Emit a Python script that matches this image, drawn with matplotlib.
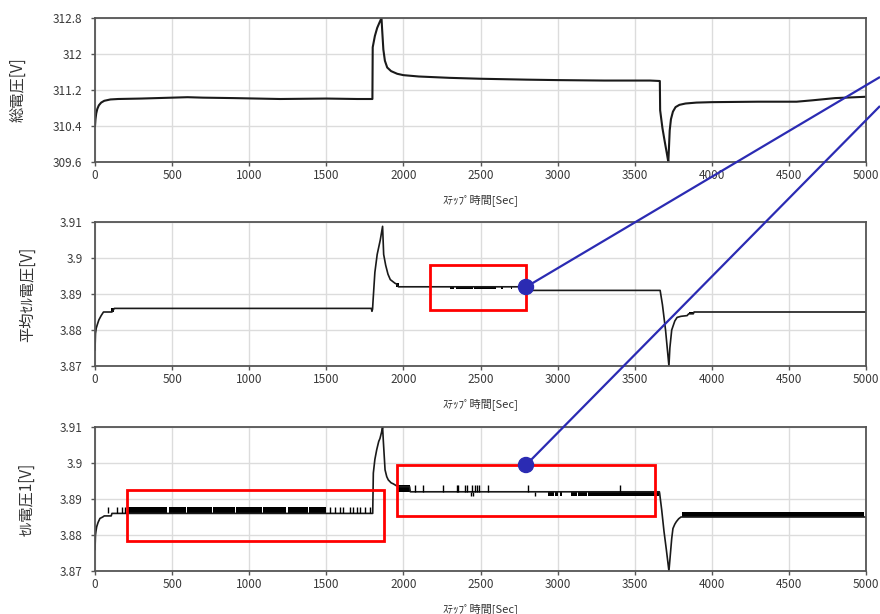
# plot.py
import matplotlib
matplotlib.use('Agg')
import matplotlib.pyplot as plt
import matplotlib.patches as patches

plt.rcParams['font.family'] = ['Noto Sans CJK JP', 'DejaVu Sans']

# 総電圧 [V]
total_t = [0, 3, 8, 15, 25, 40, 60, 100, 150, 300, 500, 600, 700, 900, 1200, 1500, 1700, 1799,
           1801, 1815, 1830, 1845, 1858, 1862, 1870, 1880, 1895, 1920, 1960, 2000, 2100, 2300,
           2500, 2800, 3000, 3300, 3600, 3663, 3665, 3680, 3695, 3708, 3718, 3722, 3727, 3735,
           3748, 3765, 3790, 3830, 3900, 4000, 4300, 4550, 4650, 4800, 5000]
total_v = [310.40, 310.55, 310.68, 310.78, 310.86, 310.92, 310.96, 310.99, 311.00, 311.01, 311.03,
           311.04, 311.03, 311.02, 311.00, 311.01, 311.00, 311.00,
           312.15, 312.40, 312.58, 312.70, 312.80, 312.55, 312.10, 311.85, 311.70, 311.62, 311.56,
           311.53, 311.50, 311.47, 311.45, 311.43, 311.42, 311.41, 311.41, 311.40, 310.75, 310.35,
           310.05, 309.80, 309.60, 309.90, 310.30, 310.55, 310.72, 310.82, 310.87, 310.90, 310.92,
           310.93, 310.94, 310.94, 310.97, 311.02, 311.05]

# 平均ｾﾙ電圧 [V]
avg_t = [0, 3, 8, 15, 25, 40, 55, 110, 118, 125, 1792, 1796, 1800, 1803, 1815, 1830, 1850, 1865,
         1872, 1885, 1900, 1915, 1930, 1945, 1955, 1968, 2810, 2812, 3665, 3680, 3700, 3722, 3728,
         3740, 3760, 3775, 3800, 3840, 3850, 3880, 3885, 5000]
avg_v = [3.8745, 3.8790, 3.8805, 3.8815, 3.8828, 3.8840, 3.8850, 3.8850, 3.8855, 3.8860, 3.8860,
         3.8852, 3.8858, 3.8880, 3.8960, 3.9010, 3.9050, 3.9088, 3.9010, 3.8980, 3.8955, 3.8940,
         3.8935, 3.8930, 3.8928, 3.8920, 3.8920, 3.8910, 3.8910, 3.8870, 3.8800, 3.8700, 3.8750,
         3.8800, 3.8825, 3.8835, 3.8838, 3.8840, 3.8845, 3.8845, 3.8850, 3.8850]
avg_flicker = [(105, 125, 3.8850, 3.8860), (1955, 1970, 3.8920, 3.8930),
               (2300, 2330, 3.8913, 3.8920), (2340, 2450, 3.8913, 3.8920),
               (2460, 2600, 3.8913, 3.8920), (2635, 2645, 3.8913, 3.8920),
               (2695, 2705, 3.8913, 3.8920), (3850, 3880, 3.8845, 3.8850)]

# ｾﾙ電圧1 [V]
cell_t = [0, 3, 6, 11, 20, 32, 50, 60, 105, 110, 1801, 1805, 1815, 1827, 1840, 1848, 1858, 1865,
          1870, 1881, 1892, 1902, 1920, 1935, 1950, 1967, 2040, 2045, 3660, 3662, 3675, 3690, 3705,
          3722, 3730, 3740, 3748, 3760, 3770, 3785, 3800, 5000]
cell_v = [3.8760, 3.8800, 3.8810, 3.8823, 3.8835, 3.8846, 3.8850, 3.8853, 3.8853, 3.8860, 3.8860,
          3.8972, 3.9010, 3.9037, 3.9060, 3.9068, 3.9085, 3.9100, 3.9060, 3.8981, 3.8962, 3.8953,
          3.8945, 3.8942, 3.8938, 3.8934, 3.8934, 3.8920, 3.8920, 3.8915, 3.8870, 3.8810, 3.8760,
          3.8700, 3.8740, 3.8790, 3.8818, 3.8830, 3.8837, 3.8845, 3.8850, 3.8850]
# single readings one step above / below the settled level
cell_up_t = [86, 141, 173, 192, 1524, 1556, 1589, 1610, 1654, 1676, 1697, 1718, 1751, 1783]
cell_up2_t = [2075, 2129, 2259, 2346, 2356, 2399, 2414, 2443, 2464, 2479, 2492, 2551, 2805, 3405]
cell_dn_t = [2436, 2453, 2853]
# stretches where the reading flickers between two levels
cell_flicker = [(216, 470, 3.8860, 3.8877), (478, 590, 3.8860, 3.8877), (598, 760, 3.8860, 3.8877),
                (768, 905, 3.8860, 3.8877), (912, 1080, 3.8860, 3.8877), (1088, 1240, 3.8860, 3.8877),
                (1250, 1380, 3.8860, 3.8877), (1388, 1500, 3.8860, 3.8877),
                (1967, 2040, 3.8920, 3.8939),
                (2940, 2975, 3.8908, 3.8920), (2985, 3000, 3.8908, 3.8920), (3015, 3030, 3.8908, 3.8920),
                (3085, 3125, 3.8908, 3.8920), (3135, 3190, 3.8908, 3.8920), (3200, 3660, 3.8908, 3.8920),
                (3805, 4990, 3.8850, 3.8863)]

xticks = [0, 500, 1000, 1500, 2000, 2500, 3000, 3500, 4000, 4500, 5000]
total_ticks = [309.6, 310.4, 311.2, 312, 312.8]
total_ticklabels = ['309.6', '310.4', '311.2', '312', '312.8']
cell_ticks = [3.87, 3.88, 3.89, 3.9, 3.91]
cell_ticklabels = ['3.87', '3.88', '3.89', '3.9', '3.91']

xlabel = 'ｽﾃｯﾌﾟ時間[Sec]'
ylabels = ['総電圧[V]', '平均ｾﾙ電圧[V]', 'ｾﾙ電圧1[V]']

W, H = 880, 614
fig = plt.figure(figsize=(W / 100, H / 100), dpi=100)

def make_axes(top_px, ylabel, label_x):
    ax = fig.add_axes([95 / W, 1 - (top_px + 144) / H, 771 / W, 144 / H])
    ax.set_xlim(0, 5000)
    ax.set_xticks(xticks)
    ax.grid(True, color='#dcdcdc', lw=1.0)
    ax.set_axisbelow(True)
    for s in ax.spines.values():
        s.set_color('#555555')
        s.set_linewidth(1.3)
    ax.tick_params(colors='#555555', labelcolor='#3a3a3a', labelsize=8.5, length=3, width=1)
    ax.tick_params(axis='y', pad=6)
    ax.tick_params(axis='x', pad=2)
    ax.set_xlabel(xlabel, fontsize=8, color='#333333')
    ax.xaxis.set_label_coords(0.5, -0.225)
    ax.set_ylabel(ylabel, fontsize=11, color='#333333')
    ax.yaxis.set_label_coords(label_x, 0.5)
    return ax

def draw_flicker(ax, bands):
    for t0, t1, lo, hi in bands:
        ax.broken_barh([(t0, t1 - t0)], (lo, hi - lo), facecolor='black', lw=0)

ax1 = make_axes(18, ylabels[0], -0.089)
ax1.plot(total_t, total_v, color='#1a1a1a', lw=1.5)
ax1.set_ylim(309.6, 312.8)
ax1.set_yticks(total_ticks)
ax1.set_yticklabels(total_ticklabels)

ax2 = make_axes(222, ylabels[1], -0.077)
ax2.plot(avg_t, avg_v, color='#1a1a1a', lw=1.2)
draw_flicker(ax2, avg_flicker)
ax2.set_ylim(3.87, 3.91)
ax2.set_yticks(cell_ticks)
ax2.set_yticklabels(cell_ticklabels)

ax3 = make_axes(427, ylabels[2], -0.077)
ax3.plot(cell_t, cell_v, color='#1a1a1a', lw=1.2)
draw_flicker(ax3, cell_flicker)
ax3.vlines(cell_up_t, 3.8860, 3.8877, color='black', lw=1.0)
ax3.vlines(cell_up2_t, 3.8920, 3.8939, color='black', lw=1.0)
ax3.vlines(cell_dn_t, 3.8908, 3.8920, color='black', lw=1.0)
ax3.set_ylim(3.87, 3.91)
ax3.set_yticks(cell_ticks)
ax3.set_yticklabels(cell_ticklabels)

# callout boxes and leader lines, in pixel coordinates over the whole figure
ov = fig.add_axes([0, 0, 1, 1], zorder=10)
ov.set_xlim(0, W)
ov.set_ylim(H, 0)
ov.axis('off')
ov.patch.set_alpha(0)

boxes = [(430, 265, 526, 310), (127, 490, 384, 541), (397, 465, 655, 516)]
for x1, y1, x2, y2 in boxes:
    ov.add_patch(patches.Rectangle((x1, y1), x2 - x1, y2 - y1, fill=False,
                                   edgecolor='#ff0000', lw=2.0))

leaders = [((526, 287), (880, 77)), ((526, 465), (880, 106))]
for (x0, y0), (x1, y1) in leaders:
    ov.plot([x0, x1], [y0, y1], color='#2b2bb3', lw=1.6, solid_capstyle='butt')
    ov.add_patch(patches.Circle((x0, y0), 7.5, color='#2b2bb3'))

plt.savefig('out.png', dpi=100)
